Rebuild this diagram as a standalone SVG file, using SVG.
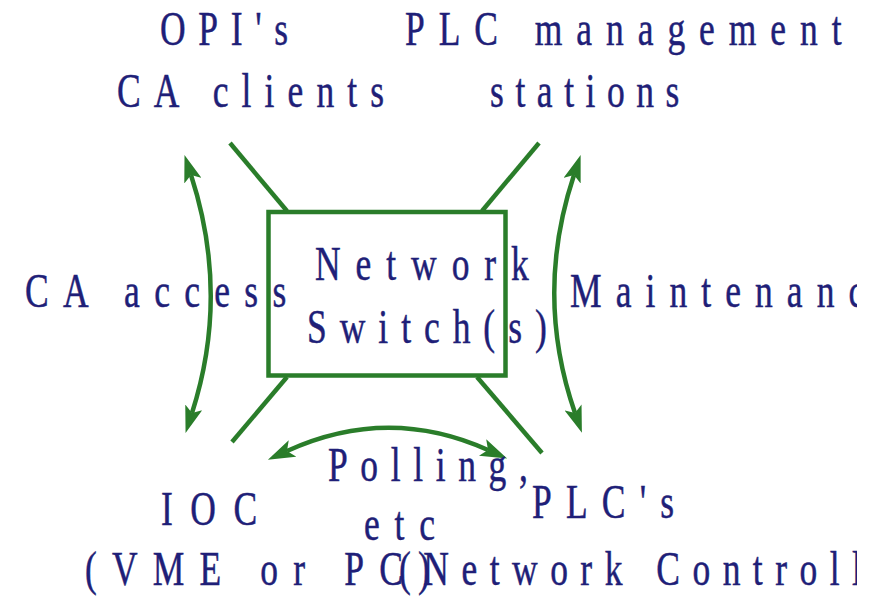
<svg xmlns="http://www.w3.org/2000/svg" width="882" height="596" viewBox="0 0 882 596">
<style>
.t{font-family:"Liberation Serif","Times New Roman",serif;font-size:48px;fill:#1f1f78;stroke:#1f1f78;stroke-width:0.5}
.ln{stroke:#2a7d2a;stroke-width:4.5;fill:none}
.arc{stroke:#2a7d2a;stroke-width:4.5;fill:none;marker-start:url(#ah);marker-end:url(#ah)}
</style>
<defs>
<marker id="ah" markerUnits="userSpaceOnUse" viewBox="0 0 27 18" markerWidth="27" markerHeight="18" refX="6" refY="9" orient="auto-start-reverse">
<path d="M0,0 L27,9 L0,18 L6,9 z" fill="#2a7d2a"/>
</marker>
<clipPath id="clip"><rect x="0" y="0" width="857" height="596"/></clipPath>
</defs>
<rect width="882" height="596" fill="#ffffff"/>
<g id="connectors">
<line class="ln" x1="230" y1="143" x2="287" y2="211"/>
<line class="ln" x1="539" y1="143" x2="482" y2="211"/>
<line class="ln" x1="287" y1="377" x2="232" y2="442"/>
<line class="ln" x1="477" y1="377" x2="542" y2="453"/>
<path class="arc" d="M191,175 Q230,295 192,413"/>
<path class="arc" d="M574,175 Q534,295 575,413"/>
<path class="arc" d="M287,451 Q388,405 488,450"/>
</g>
<g clip-path="url(#clip)">
<g id="switch">
<rect x="268.5" y="212" width="237" height="163.5" fill="none" stroke="#2a7d2a" stroke-width="4.5"/>
<text class="t" transform="translate(315,280) scale(0.74,1)" textLength="289">Network</text>
<text class="t" transform="translate(307,343) scale(0.74,1)" textLength="324">Switch(s)</text>
</g>
<g id="opi">
<text class="t" transform="translate(160,45) scale(0.74,1)" textLength="173">OPI's</text>
<text class="t" transform="translate(117,107) scale(0.74,1)" textLength="361">CA clients</text>
</g>
<g id="plc-mgmt">
<text class="t" transform="translate(405,45) scale(0.74,1)" textLength="590">PLC management</text>
<text class="t" transform="translate(490,107) scale(0.74,1)" textLength="256">stations</text>
</g>
<g id="ioc">
<text class="t" transform="translate(161,525) scale(0.74,1)" textLength="130">IOC</text>
<text class="t" transform="translate(85,585) scale(0.74,1)" textLength="466">(VME or PC)</text>
</g>
<g id="plcs">
<text class="t" transform="translate(532,518) scale(0.74,1)" textLength="192">PLC's</text>
<text class="t" transform="translate(399,585) scale(0.74,1)" textLength="765">(Network Controllers)</text>
</g>
<g id="labels">
<text class="t" transform="translate(25,307) scale(0.74,1)" textLength="353">CA access</text>
<text class="t" transform="translate(570,307) scale(0.74,1)" textLength="438">Maintenance</text>
<text class="t" transform="translate(328,481) scale(0.74,1)" textLength="270">Polling,</text>
<text class="t" transform="translate(364,540) scale(0.74,1)" textLength="96">etc</text>
</g>
</g>
</svg>
